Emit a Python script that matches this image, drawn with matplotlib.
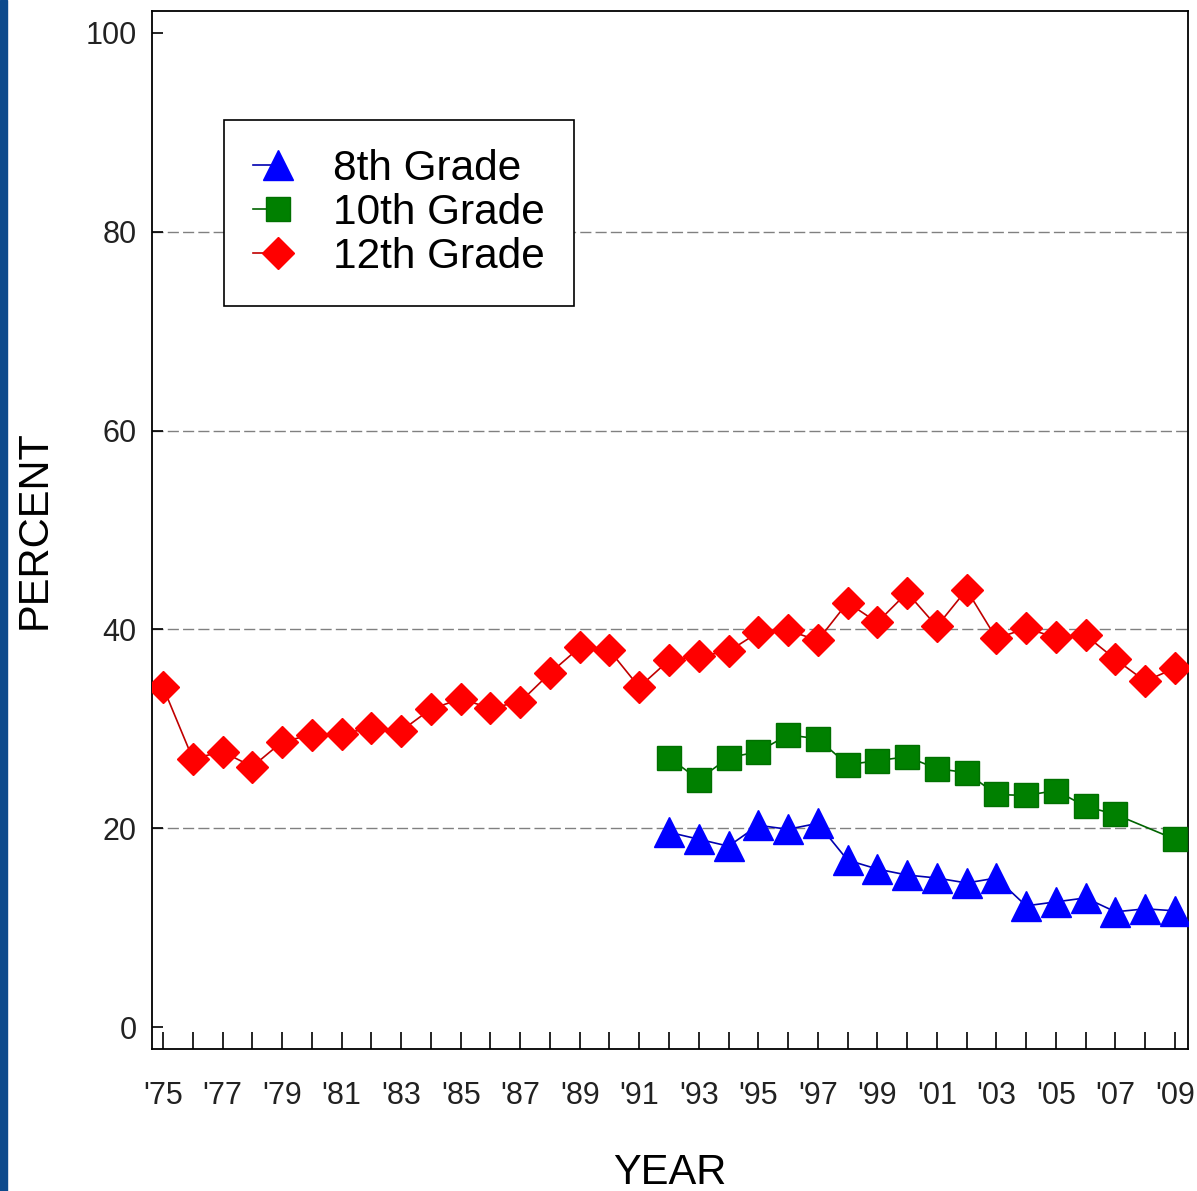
import numpy as np
import matplotlib
matplotlib.use('Agg')
import matplotlib.pyplot as plt
from matplotlib.legend_handler import HandlerLine2D
from matplotlib.lines import Line2D
from matplotlib.patches import Rectangle

plt.rcParams['font.family'] = ['Liberation Sans', 'DejaVu Sans']

# роки та значення (відсотки)
years_12 = list(range(1975, 2010))
pct_12 = [34.2, 27.0, 27.7, 26.2, 28.7, 29.4, 29.5, 30.1, 29.8, 32.0,
          33.0, 32.1, 32.7, 35.6, 38.2, 37.9, 34.2, 36.9, 37.3, 37.8,
          39.7, 39.9, 38.9, 42.7, 40.7, 43.7, 40.3, 44.0, 39.1, 40.1,
          39.2, 39.4, 37.0, 34.8, 36.1]

years_10 = [1992, 1993, 1994, 1995, 1996, 1997, 1998, 1999, 2000, 2001,
            2002, 2003, 2004, 2005, 2006, 2007, 2009]
pct_10 = [27.1, 24.9, 27.1, 27.7, 29.4, 29.0, 26.4, 26.8, 27.2, 26.0,
          25.6, 23.4, 23.3, 23.8, 22.2, 21.4, 18.9]

years_8 = list(range(1992, 2010))
pct_8 = [19.6, 18.9, 18.2, 20.3, 19.9, 20.5, 16.8, 15.9, 15.3, 15.0,
         14.5, 15.0, 12.2, 12.6, 13.0, 11.6, 11.9, 11.7]

xtick_labels = ["'%02d" % (y % 100) if (y - 1975) % 2 == 0 else '' for y in years_12]


class HandlerLeftLine(HandlerLine2D):
    """маркер справа, лінія тільки зліва"""
    def create_artists(self, legend, orig_handle, xdescent, ydescent,
                       width, height, fontsize, trans):
        y = (height - ydescent) / 2
        x0, x1 = -xdescent, -xdescent + width
        line = Line2D([x0, x1], [y, y])
        self.update_prop(line, orig_handle, legend)
        line.set_marker('None')
        mark = Line2D([x1], [y])
        self.update_prop(mark, orig_handle, legend)
        mark.set_linestyle('None')
        line.set_transform(trans)
        mark.set_transform(trans)
        return [line, mark]


fig = plt.figure(figsize=(11.97, 11.91), dpi=100)
ax = fig.add_axes([0.127, 0.1192, 0.8655, 0.8716])

ax.plot(years_8, pct_8, color='#0000b0', lw=1.2, marker='^', ms=21,
        mfc='#0000ff', mec='#0000ff', label='8th Grade', zorder=3)
ax.plot(years_10, pct_10, color='#006400', lw=1.2, marker='s', ms=17.5,
        mfc='#008000', mec='#007000', label='10th Grade', zorder=3)
ax.plot(years_12, pct_12, color='#c00000', lw=1.2, marker='D', ms=16.5,
        mfc='#ff0000', mec='#ff0000', label='12th Grade', zorder=3)

for g in [20, 40, 60, 80]:
    ax.axhline(g, color='#808080', lw=1, dashes=(8, 3), zorder=1)

ax.set_xlim(1974.63, 2009.44)
ax.set_ylim(-2.2, 102.2)
ax.set_yticks([0, 20, 40, 60, 80, 100])
ax.set_xticks(years_12)
ax.set_xticklabels(xtick_labels)

ax.tick_params(axis='y', direction='in', length=8, width=1.2, pad=11,
               labelsize=22, labelcolor='#222222')
ax.tick_params(axis='x', direction='in', length=12, width=1.2, pad=23,
               labelsize=22, labelcolor='#222222')
for s in ax.spines.values():
    s.set_linewidth(1.3)

ax.set_ylabel('PERCENT', fontsize=30, va='center')
ax.yaxis.set_label_coords(-0.113, 0.5)
ax.set_xlabel('YEAR', fontsize=30, va='center')
ax.xaxis.set_label_coords(0.5, -0.1195)

leg = ax.legend(loc='upper left', bbox_to_anchor=(0.0695, 0.895), borderaxespad=0,
                fontsize=30.5, frameon=True, fancybox=False, edgecolor='black',
                framealpha=1, handlelength=0.6, handletextpad=1.3, labelspacing=0.1,
                borderpad=0.68, numpoints=1,
                handler_map={Line2D: HandlerLeftLine()})
leg.get_frame().set_linewidth(1.2)

# синя смуга зліва
fig.patches.append(Rectangle((0, 0), 7 / 1197, 1, transform=fig.transFigure,
                             color='#0d4a8c', zorder=0))

fig.savefig('out.png', dpi=100)
